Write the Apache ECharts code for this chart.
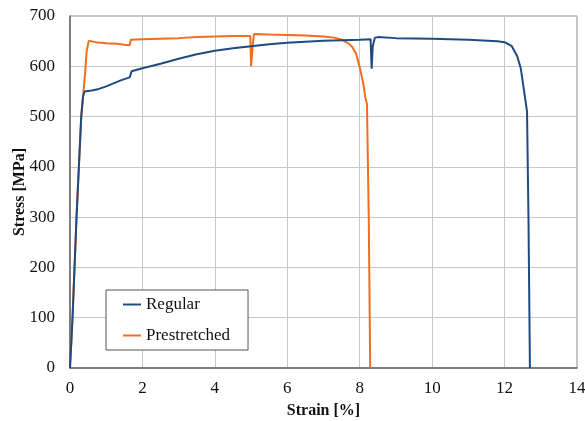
<!DOCTYPE html>
<html>
<head>
<meta charset="utf-8">
<script src="https://cdn.jsdelivr.net/npm/echarts@6/dist/echarts.min.js"></script>
<style>html,body{margin:0;padding:0;background:#fff;}#c{width:585px;height:421px;}</style>
</head>
<body>
<div id="c"></div>
<script>
const xTicks = [0, 2, 4, 6, 8, 10, 12, 14];
const yTicks = [0, 100, 200, 300, 400, 500, 600, 700];

const regularStrain = [0, 0.07, 0.18, 0.31, 0.36, 0.4, 0.6, 0.8, 1.0, 1.2, 1.4, 1.65, 1.7, 1.75, 2.0, 2.5, 3.0, 3.5, 4.0, 4.5, 5.0, 5.5, 6.0, 6.5, 7.0, 7.5, 8.0, 8.3, 8.33, 8.36, 8.42, 8.5, 9.0, 10.0, 11.0, 11.8, 12.0, 12.2, 12.35, 12.45, 12.55, 12.62, 12.66, 12.7];
const regularStress = [0, 100, 300, 500, 540, 550, 552, 555, 560, 566, 572, 578, 590, 592, 596, 605, 615, 624, 631, 636, 640, 644, 647, 649, 651, 652, 653, 654, 595, 640, 657, 658, 656, 655, 653, 650, 648, 640, 620, 595, 545, 510, 300, 0];

const prestretchedStrain = [0, 0.07, 0.18, 0.31, 0.4, 0.46, 0.52, 0.7, 1.0, 1.3, 1.5, 1.65, 1.68, 2.0, 2.5, 3.0, 3.5, 4.0, 4.5, 4.98, 5.0, 5.05, 5.08, 5.5, 6.0, 6.5, 7.0, 7.3, 7.5, 7.7, 7.8, 7.9, 8.0, 8.1, 8.15, 8.2, 8.25, 8.29];
const prestretchedStress = [0, 100, 300, 500, 572, 630, 651, 648, 646, 645, 643, 642, 653, 654, 655, 656, 658, 659, 660, 660, 600, 645, 664, 663, 662, 661, 659, 657, 653, 645, 638, 625, 598, 565, 540, 525, 300, 0];

const zip = (a, b) => a.map((v, i) => [v, b[i]]);
const serif = '"Liberation Serif", "Times New Roman", serif';

const chart = echarts.init(document.getElementById('c'), null, {renderer: 'canvas'});
chart.setOption({
  animation: false,
  backgroundColor: '#fff',
  grid: {left: 70, right: 8, top: 16, bottom: 53, show: true, borderColor: '#8a8a8a', borderWidth: 1,
         containLabel: false, outerBoundsMode: 'none'},
  legend: {
    orient: 'vertical', left: 106, top: 290,
    padding: [6, 18, 6, 17], itemGap: 14, itemWidth: 18, itemHeight: 14,
    borderColor: '#555', borderWidth: 1, backgroundColor: '#fff',
    textStyle: {fontFamily: serif, fontSize: 17, color: '#111', lineHeight: 16},
    data: [{name: 'Regular', icon: 'path://M0,0 L18,0 L18,2 L0,2 Z'}, {name: 'Prestretched', icon: 'path://M0,0 L18,0 L18,2 L0,2 Z'}]
  },
  xAxis: {
    type: 'value', min: xTicks[0], max: xTicks[xTicks.length - 1], interval: 2,
    name: 'Strain [%]', nameLocation: 'middle', nameGap: 35, nameMoveOverlap: false,
    nameTextStyle: {fontFamily: serif, fontSize: 16, fontWeight: 'bold', color: '#111'},
    axisLine: {show: true, lineStyle: {color: '#666', width: 1.5}},
    axisTick: {show: false},
    axisLabel: {fontFamily: serif, fontSize: 17, color: '#111', margin: 12},
    splitLine: {show: true, lineStyle: {color: '#c8c8c8', width: 1}}
  },
  yAxis: {
    type: 'value', min: yTicks[0], max: yTicks[yTicks.length - 1], interval: 100,
    name: 'Stress [MPa]', nameLocation: 'middle', nameGap: 42, nameRotate: 90, nameMoveOverlap: false,
    nameTextStyle: {fontFamily: serif, fontSize: 16, fontWeight: 'bold', color: '#111', padding: [0, 0, 0, 0]},
    axisLine: {show: true, lineStyle: {color: '#666', width: 1.5}},
    axisTick: {show: false},
    axisLabel: {fontFamily: serif, fontSize: 17, color: '#111', margin: 15},
    splitLine: {show: true, lineStyle: {color: '#c8c8c8', width: 1}}
  },
  series: [
    {name: 'Regular', type: 'line', data: zip(regularStrain, regularStress), symbol: 'none',
     lineStyle: {color: '#1f4b82', width: 2}, itemStyle: {color: '#1f4b82'}, z: 3},
    {name: 'Prestretched', type: 'line', data: zip(prestretchedStrain, prestretchedStress), symbol: 'none',
     lineStyle: {color: '#f26d1f', width: 2}, itemStyle: {color: '#f26d1f'}, z: 2}
  ]
});
</script>
</body>
</html>
